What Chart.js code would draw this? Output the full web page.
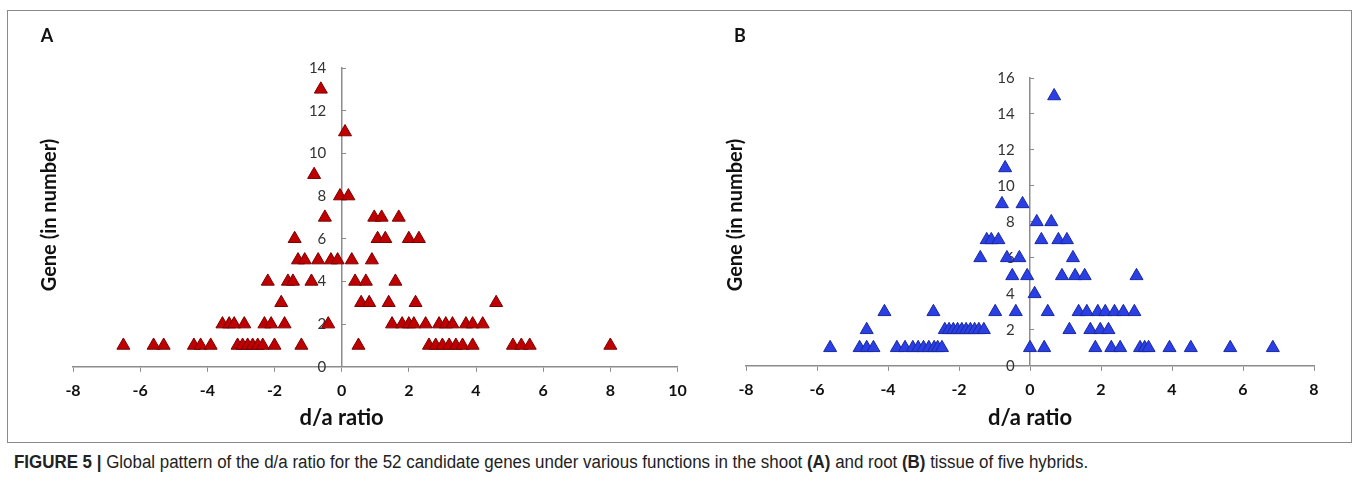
<!DOCTYPE html>
<html>
<head>
<meta charset="utf-8">
<script src="https://cdn.jsdelivr.net/npm/chart.js@4.4.1/dist/chart.umd.min.js"></script>
<style>
  html, body { margin: 0; padding: 0; background: #fff; }
  #page { position: relative; width: 1358px; height: 492px; overflow: hidden; }
  #frame { position: absolute; left: 7px; top: 10px; width: 1343px; height: 431px; border: 1px solid #8a8a8a; }
  #cvA { position: absolute; left: 0; top: 0; }
  #cvB { position: absolute; left: 700px; top: 0; }
  #caption { position: absolute; left: 14px; top: 452px; font-family: "Liberation Sans", Arial, sans-serif; font-size: 18px; color: #222; white-space: nowrap; transform: scaleX(0.94); transform-origin: 0 0; }
  #caption b { font-weight: bold; }
</style>
</head>
<body>
<div id="page">
  <div id="frame"></div>
  <canvas id="cvA" width="700" height="440"></canvas>
  <canvas id="cvB" width="658" height="440"></canvas>
  <div id="caption"><b>FIGURE 5 |</b> Global pattern of the d/a ratio for the 52 candidate genes under various functions in the shoot <b>(A)</b> and root <b>(B)</b> tissue of five hybrids.</div>
</div>
<script>
// Panel A (shoot): gene count per row, and d/a ratios that sit on that row
const shootCounts = [1, 2, 3, 4, 5, 6, 7, 8, 9, 11, 13];
const shootRatios = [
  [-6.5, -5.6, -5.3, -4.4, -4.2, -3.9, -3.1, -2.95, -2.8, -2.65, -2.5, -2.35, -2.0, -1.2, 0.5, 2.6, 2.8, 3.0, 3.2, 3.4, 3.6, 3.9, 5.1, 5.35, 5.6, 8.0],
  [-3.55, -3.35, -3.2, -2.9, -2.3, -2.1, -1.7, -0.4, 1.5, 1.8, 2.0, 2.15, 2.5, 2.9, 3.1, 3.3, 3.7, 3.9, 4.2],
  [-1.8, 0.58, 0.82, 1.4, 2.2, 4.6],
  [-2.2, -1.6, -1.45, -0.9, 0.4, 0.72, 1.6],
  [-1.3, -1.1, -0.7, -0.32, -0.12, 0.3, 0.9],
  [-1.4, 1.07, 1.3, 2.0, 2.3],
  [-0.5, 0.97, 1.19, 1.7],
  [-0.05, 0.2],
  [-0.82],
  [0.1],
  [-0.62]
];

// Panel B (root)
const rootCounts = [1, 2, 3, 4, 5, 6, 7, 8, 9, 11, 15];
const rootRatios = [
  [-5.63, -4.8, -4.6, -4.41, -3.75, -3.52, -3.3, -3.15, -3.0, -2.85, -2.7, -2.6, -2.48, 0.0, 0.4, 1.84, 2.29, 2.54, 3.1, 3.23, 3.34, 3.93, 4.53, 5.64, 6.84],
  [-4.6, -2.4, -2.28, -2.16, -2.04, -1.92, -1.8, -1.68, -1.56, -1.44, -1.3, 1.11, 1.7, 1.98, 2.21],
  [-4.1, -2.72, -0.98, -0.4, 0.5, 1.37, 1.6, 1.91, 2.12, 2.38, 2.63, 2.94],
  [0.13],
  [-0.5, -0.08, 0.9, 1.27, 1.54, 3.0],
  [-1.4, -0.65, -0.3, 1.21],
  [-1.22, -1.09, -0.89, 0.32, 0.8, 1.04],
  [0.19, 0.6],
  [-0.79, -0.21],
  [-0.7],
  [0.68]
];

const shootXTicks = [-8, 10];
const shootYTicks = [0, 14];
const rootXTicks = [-8, 8];
const rootYTicks = [0, 16];

function toPoints(counts, ratios) {
  return counts.flatMap((c, i) => ratios[i].map(r => ({ x: r, y: c })));
}

const axisGray = '#8c8c8c';
const fontFam = 'Lato, "Open Sans", sans-serif';

// axis titles and panel letter, drawn where the original figure has them
function titlesPlugin(letter, letterX, yTitleX) {
  return {
    id: 'titles' + letter,
    afterDraw(chart) {
      const ctx = chart.ctx;
      const xs = chart.scales.x;
      ctx.save();
      ctx.fillStyle = '#111';
      ctx.textAlign = 'center';
      ctx.textBaseline = 'middle';
      ctx.font = 'bold 18px ' + fontFam;
      ctx.fillText(letter, letterX, 36);
      ctx.font = 'bold 22px ' + fontFam;
      ctx.fillText('d/a ratio', xs.getPixelForValue(0), 418);
      ctx.translate(yTitleX, 215);
      ctx.rotate(-Math.PI / 2);
      ctx.font = 'bold 20px ' + fontFam;
      ctx.fillText('Gene (in number)', 0, 0);
      ctx.restore();
    }
  };
}

function makeChart(id, points, fill, edge, xTicks, yTicks, pad, plugin) {
  return new Chart(document.getElementById(id), {
    type: 'scatter',
    data: {
      datasets: [{
        data: points,
        pointStyle: 'triangle',
        pointRadius: 7.5,
        pointBackgroundColor: fill,
        pointBorderColor: edge,
        pointBorderWidth: 1
      }]
    },
    options: {
      responsive: false,
      animation: false,
      layout: { padding: pad },
      plugins: { legend: { display: false }, tooltip: { enabled: false } },
      scales: {
        x: {
          type: 'linear',
          min: xTicks[0],
          max: xTicks[1],
          ticks: { stepSize: 2, color: '#111', padding: 9, font: { family: fontFam, size: 16, weight: 'bold' } },
          grid: { drawOnChartArea: false, drawTicks: true, tickLength: 5, color: axisGray },
          border: { display: true, color: axisGray, width: 1.5 }
        },
        y: {
          type: 'linear',
          position: { x: 0 },
          min: yTicks[0],
          max: yTicks[1],
          // labels of an axis placed at x = 0 sit flush on the line, so push them left
          ticks: { stepSize: 2, color: '#333', font: { family: fontFam, size: 15 }, callback: v => v + '    ' },
          grid: { drawOnChartArea: false, drawTicks: true, tickLength: -5, color: axisGray },
          border: { display: true, color: axisGray, width: 1.5 }
        }
      }
    },
    plugins: [plugin]
  });
}

makeChart('cvA', toPoints(shootCounts, shootRatios), '#c00000', '#7a0000',
  shootXTicks, shootYTicks, { left: 73, right: 22.5, top: 68, bottom: 31 },
  titlesPlugin('A', 47, 50));

makeChart('cvB', toPoints(rootCounts, rootRatios), '#2b3fe6', '#1a2a9c',
  rootXTicks, rootYTicks, { left: 46, right: 44, top: 78, bottom: 32 },
  titlesPlugin('B', 40, 36));
</script>
</body>
</html>
